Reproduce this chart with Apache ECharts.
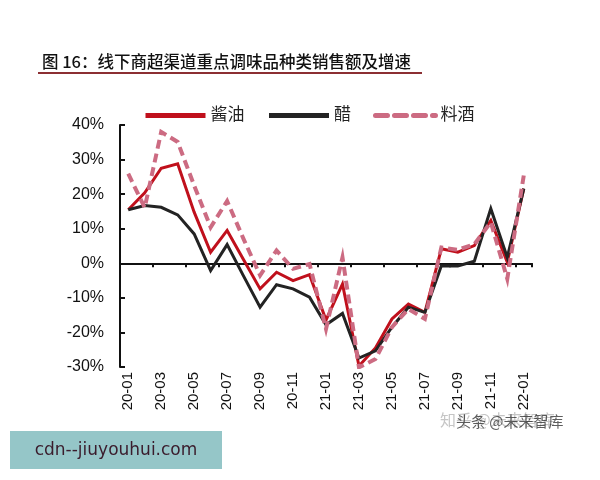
<!DOCTYPE html>
<html>
<head>
<meta charset="utf-8">
<script src="https://cdn.jsdelivr.net/npm/echarts@6/dist/echarts.min.js"></script>
<style>
  html, body { margin: 0; padding: 0; background: #fff; }
  #main { width: 600px; height: 480px; }
</style>
</head>
<body>
<div id="main"></div>
<script>
const months = ["20-01", "20-02", "20-03", "20-04", "20-05", "20-06", "20-07", "20-08", "20-09",
  "20-10", "20-11", "20-12", "21-01", "21-02", "21-03", "21-04", "21-05", "21-06", "21-07",
  "21-08", "21-09", "21-10", "21-11", "21-12", "22-01"];
const soySauce = [15.5, 20.4, 27.5, 28.8, 14.8, 3.2, 9.5, 1.0, -7.4, -2.6, -5.0, -3.3, -16.4,
  -6.0, -29.7, -24.5, -16.1, -11.8, -14.2, 4.2, 3.2, 5.1, 12.4, 0.3, 21.6];
const vinegar = [15.5, 16.7, 16.2, 14.0, 8.5, -2.1, 5.4, -3.7, -12.7, -6.2, -7.4, -9.8, -17.8,
  -14.5, -27.4, -25.3, -18.5, -12.7, -14.2, -0.7, -0.8, 0.6, 15.8, 1.7, 21.6];
const cookingWine = [25.9, 16.1, 38.0, 35.1, 22.5, 10.4, 18.0, 7.0, -3.5, 3.7, -1.6, -0.2, -19.0,
  1.7, -30.1, -27.7, -18.5, -13.2, -16.1, 4.6, 3.9, 5.5, 11.9, -4.5, 25.4];
const seriesNames = ["酱油", "醋", "料酒"];

const FONT = "Liberation Sans, Arial, Noto Sans CJK SC, sans-serif";
const RED = "#c0101c";
const BLACK = "#232323";
const PINK = "#cc6b82";

function initChart(options) {
  var chart = echarts.init(document.querySelector("#main"));
  chart.setOption(options);
  return chart;
}

const options = {
  animation: false,
  textStyle: { fontFamily: FONT },
  grid: { left: 120, right: 68, top: 125, bottom: 113 },
  legend: {
    left: 143,
    top: 103,
    padding: [4, 0, 0, 0],
    itemWidth: 60,
    itemHeight: 18,
    itemGap: 22,
    itemStyle: { opacity: 0 },
    textStyle: { fontSize: 17, color: "#222", fontFamily: FONT },
    data: [
      { name: seriesNames[0], lineStyle: { width: 5 } },
      { name: seriesNames[1], lineStyle: { width: 5 } },
      { name: seriesNames[2], lineStyle: { width: 5, type: [12, 7], cap: "round" } }
    ]
  },
  xAxis: [
    {
      type: "category",
      data: months,
      position: "bottom",
      boundaryGap: true,
      axisLine: { show: false, onZero: false },
      axisTick: { show: false },
      axisLabel: { interval: 1, rotate: 90, margin: 5, fontSize: 15, color: "#111" }
    },
    {
      type: "category",
      data: months,
      position: "top",
      boundaryGap: true,
      axisLine: { show: true, onZero: true, lineStyle: { color: "#111", width: 2 } },
      axisTick: { show: true, interval: 1, inside: true, length: 4, lineStyle: { color: "#111", width: 2 } },
      axisLabel: { show: false }
    }
  ],
  yAxis: {
    type: "value",
    min: -30,
    max: 40,
    interval: 10,
    splitLine: { show: false },
    axisLine: { show: true, lineStyle: { color: "#111", width: 2 } },
    axisTick: { show: true, inside: true, length: 5, lineStyle: { color: "#111", width: 2 } },
    axisLabel: { formatter: "{value}%", fontSize: 16, margin: 16, color: "#111" }
  },
  series: [
    {
      name: seriesNames[0], type: "line", data: soySauce, symbol: "none",
      itemStyle: { color: RED },
      lineStyle: { color: RED, width: 3, join: "miter" }
    },
    {
      name: seriesNames[1], type: "line", data: vinegar, symbol: "none",
      itemStyle: { color: BLACK },
      lineStyle: { color: BLACK, width: 3, join: "miter" }
    },
    {
      name: seriesNames[2], type: "line", data: cookingWine, symbol: "none",
      itemStyle: { color: PINK },
      lineStyle: { color: PINK, width: 4, type: [9, 5], join: "miter" }
    }
  ],
  graphic: [
    {
      type: "text", left: 42, top: 53,
      style: { text: "图 16：线下商超渠道重点调味品种类销售额及增速", fontSize: 16.5, fill: "#111",
        fontWeight: 500, fontFamily: "Noto Sans CJK SC, sans-serif" }
    },
    { type: "rect", shape: { x: 38, y: 72, width: 384, height: 2 }, style: { fill: "#8c2f33" } },
    {
      type: "text", left: 440, top: 412,
      style: { text: "知乎 @未来智库", fontSize: 16, fill: "rgba(140,140,140,0.5)",
        fontFamily: "Noto Sans CJK SC, sans-serif" }
    },
    {
      type: "text", left: 456, top: 414,
      style: { text: "头条 @未来智库", fontSize: 15, fill: "rgba(40,40,40,0.75)",
        fontFamily: "Noto Sans CJK SC, sans-serif" }
    },
    { type: "rect", shape: { x: 10, y: 431, width: 212, height: 38 }, style: { fill: "#95c6c8" } },
    {
      type: "text", x: 116, y: 451,
      style: { text: "cdn--jiuyouhui.com", fontSize: 17, fill: "#3a1c2c", align: "center",
        verticalAlign: "middle", fontFamily: "DejaVu Sans, sans-serif" }
    }
  ]
};

var myChart = initChart(options);
window.onresize = function() {
  myChart.resize();
};
</script>
</body>
</html>
